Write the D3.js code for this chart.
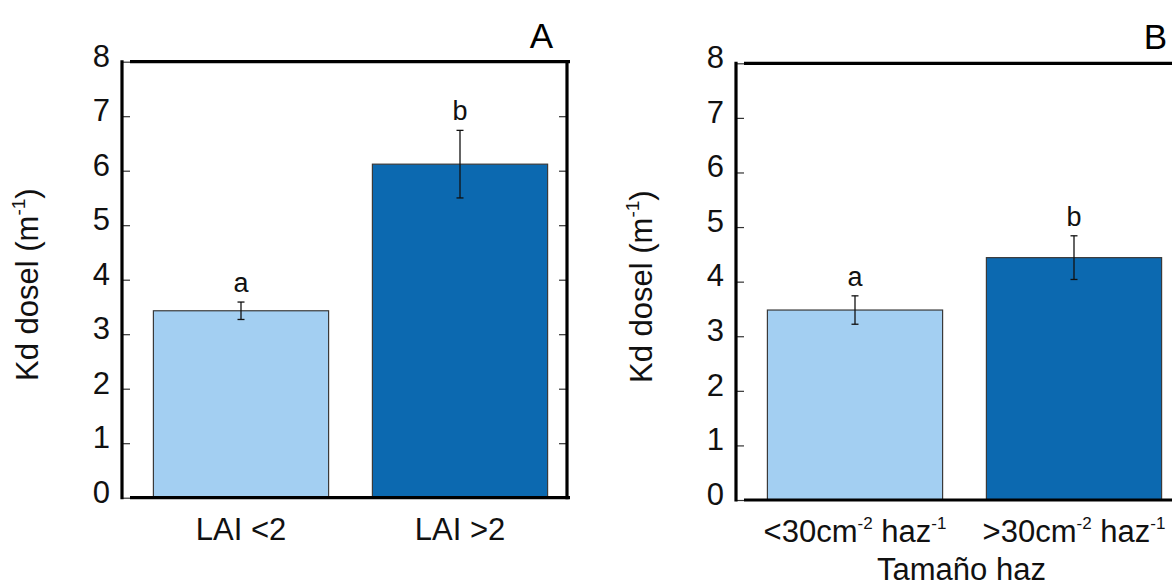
<!DOCTYPE html>
<html>
<head>
<meta charset="utf-8">
<script src="https://cdn.jsdelivr.net/npm/d3@7"></script>
<style>
  html, body { margin: 0; padding: 0; background: #fff; }
  svg { display: block; font-family: Arial, "Liberation Sans", sans-serif; }
</style>
</head>
<body>
<svg id="chart" width="1172" height="586"></svg>
<script>
// Canopy light attenuation coefficient (Kd) by leaf area index and bundle size
const yTicks = [0, 1, 2, 3, 4, 5, 6, 7, 8];

const lai_categories = ["LAI <2", "LAI >2"];
const lai_means = [3.43, 6.12];
const lai_errors = [0.16, 0.62];
const lai_letters = ["a", "b"];

const haz_categories = ["<30", ">30"];
// label pieces: [text, isSuperscript]
const haz_labels = [
  [["<30cm", false], ["-2", true], [" haz", false], ["-1", true]],
  [[">30cm", false], ["-2", true], [" haz", false], ["-1", true]]
];
const haz_means = [3.48, 4.44];
const haz_errors = [0.26, 0.40];
const haz_letters = ["a", "b"];

const barColors = ["#a3cff2", "#0c69b0"];

const FS = 31;      // main text size
const SUP = 17;     // superscript size

const svg = d3.select("#chart");

function drawPanel(cfg) {
  const g = svg.append("g");
  const x0 = cfg.left, x1 = cfg.left + 445;
  const y = d3.scaleLinear().domain([0, 8]).range([cfg.bottom, cfg.top]);
  const x = d3.scaleBand().domain(cfg.categories)
    .range([x0 + 9.5, x1 + 2.5]).paddingInner(0.2).paddingOuter(0.1);

  // bars
  g.selectAll("rect.bar").data(cfg.means).join("rect")
    .attr("class", "bar")
    .attr("x", (d, i) => x(cfg.categories[i]))
    .attr("width", x.bandwidth())
    .attr("y", d => y(d))
    .attr("height", d => y(0) - y(d))
    .attr("fill", (d, i) => barColors[i])
    .attr("stroke", "#3a3a3a")
    .attr("stroke-width", 1.2);

  // error bars with significance letters
  const cap = 3.5;
  cfg.means.forEach((m, i) => {
    const cx = x(cfg.categories[i]) + x.bandwidth() / 2;
    const e = cfg.errors[i];
    g.append("line").attr("x1", cx).attr("x2", cx)
      .attr("y1", y(m + e)).attr("y2", y(m - e))
      .attr("stroke", "#111").attr("stroke-width", 1.3);
    [m + e, m - e].forEach(v => {
      g.append("line").attr("x1", cx - cap).attr("x2", cx + cap)
        .attr("y1", y(v)).attr("y2", y(v))
        .attr("stroke", "#111").attr("stroke-width", 1.3);
    });
    g.append("text").attr("x", cx).attr("y", y(m + e) - 10)
      .attr("text-anchor", "middle").attr("font-size", 27).attr("fill", "#111")
      .text(cfg.letters[i]);
  });

  // left axis: inward ticks, labels outside
  const axL = g.append("g").attr("transform", `translate(${x0},0)`)
    .call(d3.axisLeft(y).tickValues(yTicks).tickFormat(d3.format("d"))
      .tickSizeInner(-8).tickSizeOuter(0).tickPadding(12));
  axL.select(".domain").remove();
  axL.selectAll(".tick line").attr("stroke", "#333").attr("stroke-width", 1.2);
  axL.selectAll(".tick text").attr("font-size", FS).attr("fill", "#111")
    .attr("dy", "0.14em");
  axL.attr("font-family", null);

  // right axis: inward ticks, no labels
  const axR = g.append("g").attr("transform", `translate(${x1},0)`)
    .call(d3.axisRight(y).tickValues(yTicks).tickFormat("")
      .tickSizeInner(-8).tickSizeOuter(0));
  axR.select(".domain").remove();
  axR.selectAll(".tick line").attr("stroke", "#333").attr("stroke-width", 1.2);

  // frame
  const sw = 3.2;
  g.append("line").attr("x1", x0).attr("x2", x0)
    .attr("y1", y(8) - 1.5).attr("y2", y(0) + 1.5)
    .attr("stroke", "#000").attr("stroke-width", sw);
  g.append("line").attr("x1", x1).attr("x2", x1)
    .attr("y1", y(8) - 1.5).attr("y2", y(0) + 1.5)
    .attr("stroke", "#000").attr("stroke-width", sw);
  [8, 0].forEach(v => {
    g.append("line").attr("x1", x0 + 8).attr("x2", x1 + 3)
      .attr("y1", y(v)).attr("y2", y(v))
      .attr("stroke", "#000").attr("stroke-width", sw);
  });

  // category labels
  cfg.categories.forEach((c, i) => {
    const cx = x(c) + x.bandwidth() / 2;
    const t = g.append("text").attr("x", cx).attr("y", cfg.bottom + 42)
      .attr("text-anchor", "middle").attr("font-size", FS).attr("fill", "#111");
    if (cfg.labels) {
      cfg.labels[i].forEach(([s, sup], k) => {
        t.append("tspan")
          .attr("font-size", sup ? SUP : FS)
          .attr("dy", k === 0 ? 0 : (sup ? -13 : 13))
          .text(s);
      });
    } else {
      t.text(c);
    }
  });

  // y-axis title
  const yt = g.append("text")
    .attr("transform", `translate(${x0 - 84},${(cfg.top + cfg.bottom) / 2 + 5}) rotate(-90)`)
    .attr("text-anchor", "middle").attr("font-size", FS).attr("fill", "#111");
  yt.append("tspan").text("Kd dosel (m");
  yt.append("tspan").attr("font-size", 19).attr("dy", -13).text("-1");
  yt.append("tspan").attr("dy", 13).text(")");

  // panel letter
  g.append("text").attr("x", x1 - 14).attr("y", cfg.top - 14)
    .attr("text-anchor", "end").attr("font-size", 35).attr("fill", "#000")
    .text(cfg.panel);

  if (cfg.xTitle) {
    g.append("text").attr("x", (x0 + x1) / 2 + 3).attr("y", cfg.bottom + 80)
      .attr("text-anchor", "middle").attr("font-size", FS).attr("fill", "#111")
      .text(cfg.xTitle);
  }
}

drawPanel({
  panel: "A", left: 122, top: 61.7, bottom: 497.7,
  categories: lai_categories, means: lai_means, errors: lai_errors, letters: lai_letters
});
drawPanel({
  panel: "B", left: 736, top: 63.3, bottom: 500,
  categories: haz_categories, labels: haz_labels, means: haz_means, errors: haz_errors,
  letters: haz_letters, xTitle: "Tamaño haz"
});
</script>
</body>
</html>
